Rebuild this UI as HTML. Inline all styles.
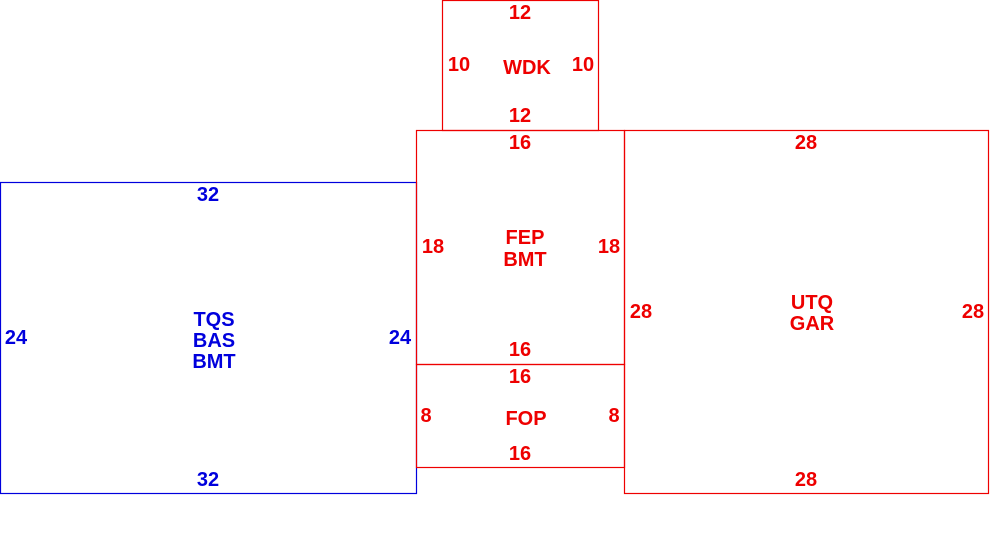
<!DOCTYPE html>
<html><head><meta charset="utf-8"><style>
html,body{margin:0;padding:0;background:#fff;}
svg{display:block;}
text{font-family:"Liberation Sans",Arial,sans-serif;font-weight:bold;font-size:20px;text-anchor:middle;dominant-baseline:central;}
.b{fill:#0000dd}.r{fill:#ee0000}
</style></head><body>
<svg width="1000" height="536" viewBox="0 0 1000 536" xmlns="http://www.w3.org/2000/svg">
<rect x="0.5" y="182.5" width="416" height="311" fill="none" stroke="#0000dd" stroke-width="1.2"/>
<rect x="442.5" y="0.5" width="156" height="130" fill="none" stroke="#ee0000" stroke-width="1.2"/>
<rect x="416.5" y="130.5" width="208" height="234" fill="none" stroke="#ee0000" stroke-width="1.2"/>
<rect x="416.5" y="364.5" width="208" height="103" fill="none" stroke="#ee0000" stroke-width="1.2"/>
<rect x="624.5" y="130.5" width="364" height="363" fill="none" stroke="#ee0000" stroke-width="1.2"/>

<g class="b">
<text x="208" y="195">32</text><text x="208" y="480">32</text>
<text x="16" y="338">24</text><text x="400" y="338">24</text>
<text x="214" y="320">TQS</text><text x="214" y="341">BAS</text><text x="214" y="362">BMT</text>
</g>
<g class="r">
<text x="520" y="13">12</text><text x="520" y="116">12</text>
<text x="459" y="65">10</text><text x="583" y="65">10</text><text x="527" y="68">WDK</text>
<text x="520" y="143">16</text><text x="520" y="350">16</text>
<text x="433" y="247">18</text><text x="609" y="247">18</text>
<text x="525" y="238">FEP</text><text x="525" y="260">BMT</text>
<text x="520" y="377">16</text><text x="520" y="454">16</text>
<text x="426" y="416">8</text><text x="614" y="416">8</text><text x="526" y="419">FOP</text>
<text x="806" y="143">28</text><text x="806" y="480">28</text>
<text x="641" y="312">28</text><text x="973" y="312">28</text>
<text x="812" y="303">UTQ</text><text x="812" y="324">GAR</text>
</g>
</svg>
</body></html>
